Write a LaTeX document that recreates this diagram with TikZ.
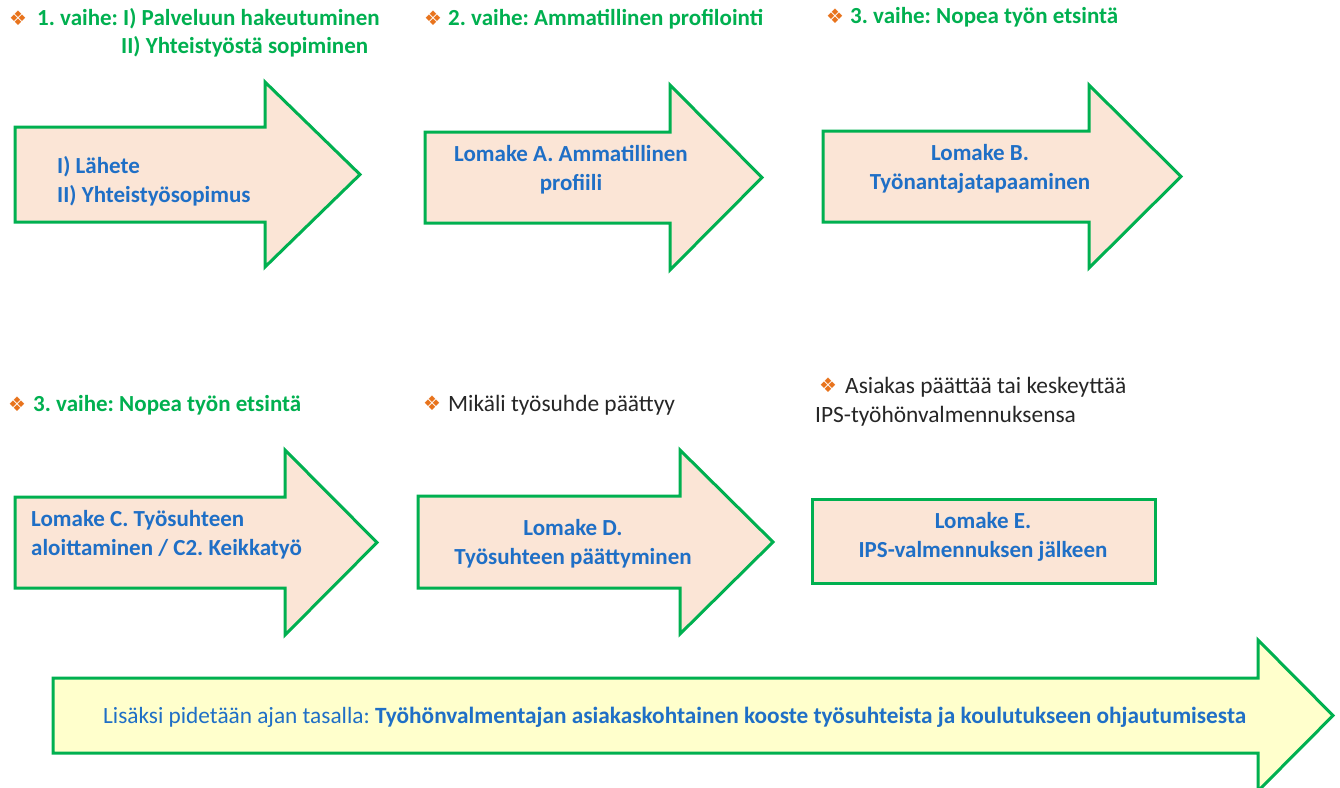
\documentclass[tikz,border=0pt]{standalone}
\usepackage{fontspec}
\setmainfont{Carlito}
\newfontfamily\symfont{DejaVu Sans}
\frenchspacing
\definecolor{grn}{HTML}{00B050}
\definecolor{hdr}{HTML}{00B050}
\definecolor{blu}{HTML}{1F6FC6}
\definecolor{peach}{HTML}{FBE5D6}
\definecolor{yel}{HTML}{FFFFCC}
\definecolor{orng}{HTML}{E8731C}
\definecolor{txt}{HTML}{262626}
\newcommand{\bul}{{\symfont\color{orng}\fontsize{20}{20}\selectfont ❖}}
\tikzset{
  shapebox/.style={draw=grn, line width=3pt, fill=peach, line join=miter},
  ybox/.style={draw=grn, line width=3pt, fill=yel, line join=miter},
  hdrtext/.style={anchor=west, inner sep=0pt, text=hdr, font=\bfseries\fontsize{23}{28}\selectfont},
  plaintext/.style={anchor=west, inner sep=0pt, text=txt, font=\fontsize{23.4}{30}\selectfont},
  lbl/.style={inner sep=0pt, text=blu, font=\bfseries\fontsize{23}{29}\selectfont, align=center},
  lbll/.style={inner sep=0pt, text=blu, font=\bfseries\fontsize{23}{29}\selectfont, align=left, anchor=west},
}
\begin{document}
\begin{tikzpicture}[x=1pt,y=-1pt]
\useasboundingbox (0,0) rectangle (1340,787);
\fill[white] (0,0) rectangle (1340,787);

% Row 1 arrows
\draw[shapebox] (15,127) -- (265,127) -- (265,82) -- (360,174.5) -- (265,267) -- (265,222) -- (15,222) -- cycle;
\draw[shapebox] (425,132) -- (670,132) -- (670,85) -- (762,177.5) -- (670,270) -- (670,223) -- (425,223) -- cycle;
\draw[shapebox] (823,131) -- (1089,131) -- (1089,85) -- (1181,176.5) -- (1089,268) -- (1089,222) -- (823,222) -- cycle;

% Row 2 arrows
\draw[shapebox] (15,497) -- (285,497) -- (285,450) -- (377,542.5) -- (285,635) -- (285,588) -- (15,588) -- cycle;
\draw[shapebox] (418,496) -- (680,496) -- (680,450) -- (773,542) -- (680,634) -- (680,588) -- (418,588) -- cycle;
\draw[shapebox] (812,499) rectangle (1155,583);

% Bottom arrow
\draw[ybox] (53,678) -- (1258,678) -- (1258,640) -- (1333,715.5) -- (1258,791) -- (1258,753) -- (53,753) -- cycle;

% Headers row 1
\node[anchor=west, inner sep=0pt] (b1) at (9,18) {\bul};
\node[hdrtext] (h1) at (37,19) {1. vaihe: I) Palveluun hakeutuminen};
\node[hdrtext] (h1b) at (121,47) {II) Yhteistyöstä sopiminen};
\node[anchor=west, inner sep=0pt] (b2) at (424,18) {\bul};
\node[hdrtext] (h2) at (448,19) {2. vaihe: Ammatillinen profilointi};
\node[anchor=west, inner sep=0pt] (b3) at (826,16) {\bul};
\node[hdrtext] (h3) at (850,17) {3. vaihe: Nopea työn etsintä};

% Headers row 2
\node[anchor=west, inner sep=0pt] (b4) at (8,404) {\bul};
\node[hdrtext] (h4) at (33,405) {3. vaihe: Nopea työn etsintä};
\node[anchor=west, inner sep=0pt] (b5) at (423,403) {\bul};
\node[plaintext] (h5) at (448,405) {Mikäli työsuhde päättyy};
\node[anchor=west, inner sep=0pt] (b6) at (819,385) {\bul};
\node[plaintext] (h6) at (845,387) {Asiakas päättää tai keskeyttää};
\node[plaintext] (h6b) at (815,416) {IPS-työhönvalmennuksensa};

% Labels in arrows
\node[lbll] (l1) at (57,181) {I) Lähete\\II) Yhteistyösopimus};
\node[lbl] (l2) at (571,170) {Lomake A. Ammatillinen\\profiili};
\node[lbl] (l3) at (980,169) {Lomake B.\\Työnantajatapaaminen};
\node[lbll] (l4) at (31,535) {Lomake C. Työsuhteen\\aloittaminen / C2. Keikkatyö};
\node[lbl] (l5) at (573,544) {Lomake D.\\Työsuhteen päättyminen};
\node[lbl] (l6) at (983,537) {Lomake E.\\IPS-valmennuksen jälkeen};
\node[anchor=west, inner sep=0pt, text=blu, font=\fontsize{23.3}{26}\selectfont] (l7) at (103,717) {Lisäksi pidetään ajan tasalla: \textbf{Työhönvalmentajan asiakaskohtainen kooste työsuhteista ja koulutukseen ohjautumisesta}};
\end{tikzpicture}
\end{document}
